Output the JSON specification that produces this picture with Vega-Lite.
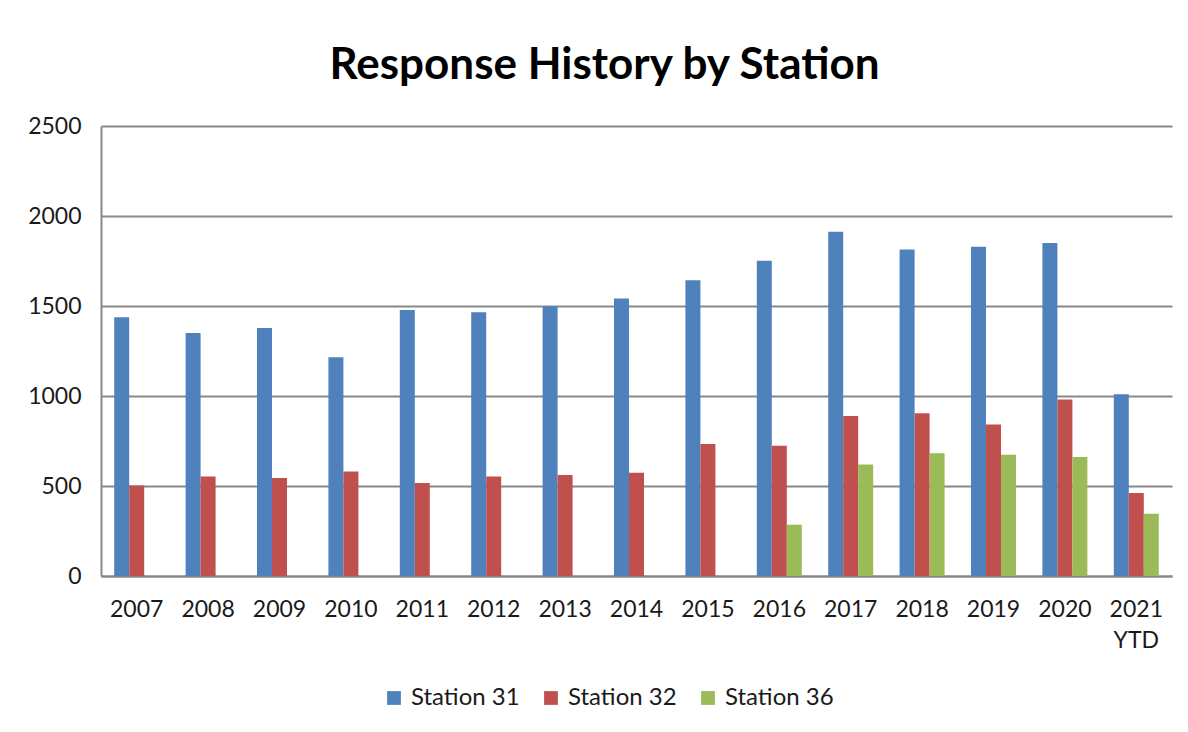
{
  "$schema": "https://vega.github.io/schema/vega-lite/v6.json",
  "width": 1071,
  "height": 450,
  "autosize": {"type": "none"},
  "padding": {"left": 101, "top": 126, "right": 16, "bottom": 156},
  "background": "#ffffff",
  "title": {
    "text": "Response History by Station",
    "font": "Lato",
    "fontSize": 44,
    "fontWeight": "bold",
    "color": "#000000",
    "anchor": "middle",
    "dx": -32,
    "offset": 27
  },
  "data": {
    "values": [
      {"year": "2007", "station": "Station 31", "responses": 1437},
      {"year": "2007", "station": "Station 32", "responses": 503},
      {"year": "2008", "station": "Station 31", "responses": 1350},
      {"year": "2008", "station": "Station 32", "responses": 553},
      {"year": "2009", "station": "Station 31", "responses": 1378},
      {"year": "2009", "station": "Station 32", "responses": 545},
      {"year": "2010", "station": "Station 31", "responses": 1215},
      {"year": "2010", "station": "Station 32", "responses": 581},
      {"year": "2011", "station": "Station 31", "responses": 1478},
      {"year": "2011", "station": "Station 32", "responses": 517},
      {"year": "2012", "station": "Station 31", "responses": 1465},
      {"year": "2012", "station": "Station 32", "responses": 553},
      {"year": "2013", "station": "Station 31", "responses": 1498},
      {"year": "2013", "station": "Station 32", "responses": 561},
      {"year": "2014", "station": "Station 31", "responses": 1542},
      {"year": "2014", "station": "Station 32", "responses": 574},
      {"year": "2015", "station": "Station 31", "responses": 1643},
      {"year": "2015", "station": "Station 32", "responses": 733},
      {"year": "2016", "station": "Station 31", "responses": 1751},
      {"year": "2016", "station": "Station 32", "responses": 724},
      {"year": "2016", "station": "Station 36", "responses": 285},
      {"year": "2017", "station": "Station 31", "responses": 1913},
      {"year": "2017", "station": "Station 32", "responses": 889},
      {"year": "2017", "station": "Station 36", "responses": 619},
      {"year": "2018", "station": "Station 31", "responses": 1814},
      {"year": "2018", "station": "Station 32", "responses": 904},
      {"year": "2018", "station": "Station 36", "responses": 682},
      {"year": "2019", "station": "Station 31", "responses": 1829},
      {"year": "2019", "station": "Station 32", "responses": 841},
      {"year": "2019", "station": "Station 36", "responses": 674},
      {"year": "2020", "station": "Station 31", "responses": 1850},
      {"year": "2020", "station": "Station 32", "responses": 981},
      {"year": "2020", "station": "Station 36", "responses": 661},
      {"year": "2021 YTD", "station": "Station 31", "responses": 1010},
      {"year": "2021 YTD", "station": "Station 32", "responses": 461},
      {"year": "2021 YTD", "station": "Station 36", "responses": 346}
    ]
  },
  "mark": {"type": "bar"},
  "encoding": {
    "x": {
      "field": "year",
      "type": "nominal",
      "sort": null,
      "scale": {"paddingInner": 0.37, "paddingOuter": 0.185},
      "axis": {
        "title": null,
        "labelAngle": 0,
        "ticks": false,
        "labelPadding": 22,
        "labelLineHeight": 31,
        "labelExpr": "datum.label == '2021 YTD' ? ['2021', 'YTD'] : datum.label",
        "domainColor": "#888888",
        "domainWidth": 2
      }
    },
    "xOffset": {
      "field": "station",
      "type": "nominal",
      "scale": {"domain": ["Station 31", "Station 32", "Station 36"], "paddingInner": 0, "paddingOuter": 0}
    },
    "y": {
      "field": "responses",
      "type": "quantitative",
      "scale": {"domain": [0, 2500], "nice": false},
      "axis": {
        "title": null,
        "values": [0, 500, 1000, 1500, 2000, 2500],
        "format": "d",
        "ticks": false,
        "labelPadding": 20,
        "grid": true,
        "gridColor": "#888888",
        "gridWidth": 2,
        "domainColor": "#888888",
        "domainWidth": 2
      }
    },
    "color": {
      "field": "station",
      "type": "nominal",
      "scale": {
        "domain": ["Station 31", "Station 32", "Station 36"],
        "range": ["#4F81BD", "#C0504D", "#9BBB59"]
      },
      "legend": {
        "title": null,
        "orient": "none",
        "direction": "horizontal",
        "legendX": 281,
        "legendY": 560,
        "symbolType": "square",
        "symbolSize": 190,
        "symbolStrokeWidth": 0,
        "symbolOpacity": 1,
        "labelFont": "Lato",
        "labelFontSize": 24,
        "labelColor": "#1a1a1a",
        "labelOffset": 5,
        "columnPadding": 19,
        "padding": 0
      }
    }
  },
  "config": {
    "view": {"stroke": null},
    "axis": {
      "labelFont": "Lato",
      "labelFontSize": 23,
      "labelColor": "#1a1a1a"
    }
  }
}
